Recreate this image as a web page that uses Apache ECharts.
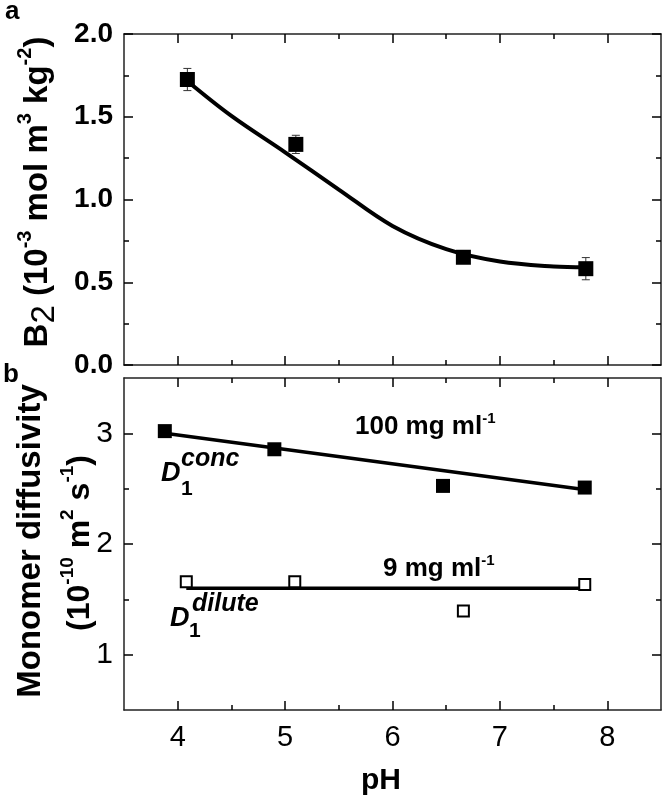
<!DOCTYPE html>
<html><head><meta charset="utf-8">
<script src="https://cdn.jsdelivr.net/npm/echarts@6/dist/echarts.min.js"></script>
<style>html,body{margin:0;padding:0;background:#fff}#c{width:664px;height:801px}</style>
</head><body><div id="c"></div>
<script>
// ---- Panel a data ----
const phA = [4.09, 5.10, 6.66, 7.80];
const b2 = [1.725, 1.333, 0.651, 0.582];
const b2Err = [0.067, 0.055, 0.03, 0.067];
const curvePh = [4.1, 4.5, 5.0, 5.5, 6.0, 6.5, 7.0, 7.5, 7.8];
const curveB2 = [1.71, 1.505, 1.285, 1.06, 0.84, 0.70, 0.625, 0.595, 0.59];
// ---- Panel b data ----
const phConc = [3.88, 4.90, 6.47, 7.79];
const dConc = [3.02, 2.856, 2.525, 2.51];
const concFitPh = [3.88, 7.80];
const concFitD = [3.00, 2.49];
const phDil = [4.08, 5.09, 6.66, 7.79];
const dDil = [1.66, 1.66, 1.395, 1.633];
const dilFitPh = [4.08, 7.80];
const dilFitD = [1.60, 1.60];
// ---- ticks ----
const xTicks = [4, 5, 6, 7, 8];
const xMinor = [4.5, 5.5, 6.5, 7.5];
const yTicksA = [0, 0.5, 1, 1.5, 2];
const yMinorA = [0.25, 0.75, 1.25, 1.75];
const yTicksB = [1, 2, 3];
const yMinorB = [1.5, 2.5];

const F = "'Liberation Sans', Arial, sans-serif";
const FN = "'Liberation Sans Narrow', 'Liberation Sans', Arial, sans-serif";
const LINE = '#222';

const zip = (a, b) => a.map((v, i) => [v, b[i]]);

function ax(grid, pos, min, max, ticks, len, showLine, label) {
  const o = {
    type: 'value', gridIndex: grid, position: pos, min: min, max: max,
    splitLine: { show: false },
    axisLine: { show: showLine, onZero: false, lineStyle: { color: LINE, width: 1.5 } },
    axisTick: { show: true, inside: true, length: len, customValues: ticks, lineStyle: { color: '#000', width: 1.5 } },
    axisLabel: { show: false }
  };
  if (label) o.axisLabel = Object.assign({ show: true, customValues: ticks }, label);
  return o;
}

const xAxis = [
  ax(0, 'bottom', 3.5, 8.5, xTicks, 9, true),
  ax(0, 'bottom', 3.5, 8.5, xMinor, 5, false),
  ax(0, 'top', 3.5, 8.5, xTicks, 9, true),
  ax(0, 'top', 3.5, 8.5, xMinor, 5, false),
  ax(1, 'bottom', 3.5, 8.5, xTicks, 9, true,
     { fontFamily: FN, fontSize: 29, color: '#000', margin: 13 }),
  ax(1, 'bottom', 3.5, 8.5, xMinor, 5, false),
  ax(1, 'top', 3.5, 8.5, xTicks, 9, true),
  ax(1, 'top', 3.5, 8.5, xMinor, 5, false)
];
const yAxis = [
  ax(0, 'left', 0, 2, yTicksA, 9, true,
     { fontFamily: F, fontWeight: 'bold', fontSize: 28, color: '#000', margin: 11, formatter: v => v.toFixed(1) }),
  ax(0, 'left', 0, 2, yMinorA, 5, false),
  ax(0, 'right', 0, 2, yTicksA, 9, true),
  ax(0, 'right', 0, 2, yMinorA, 5, false),
  ax(1, 'left', 0.5, 3.5, yTicksB, 9, true,
     { fontFamily: FN, fontSize: 30, color: '#000', margin: 11 }),
  ax(1, 'left', 0.5, 3.5, yMinorB, 5, false),
  ax(1, 'right', 0.5, 3.5, yTicksB, 9, true),
  ax(1, 'right', 0.5, 3.5, yMinorB, 5, false)
];

const sup = (size) => ({ fontFamily: F, fontWeight: 'bold', fontSize: size, lineHeight: size, verticalAlign: 'top', fill: '#000' });
const main = (size, lh) => ({ fontFamily: F, fontWeight: 'bold', fontSize: size, lineHeight: lh, verticalAlign: 'middle', fill: '#000' });

const graphic = [
  { type: 'text', x: 5, y: 12, style: { text: 'a', font: "bold 26px 'Liberation Sans'", fill: '#000', align: 'left', verticalAlign: 'middle' } },
  { type: 'text', x: 3, y: 375, style: { text: 'b', font: "bold 26px 'Liberation Sans'", fill: '#000', align: 'left', verticalAlign: 'middle' } },
  // y title panel a
  { type: 'text', x: 38, y: 192, rotation: Math.PI / 2,
    style: { text: '{b|B}{r|2}{b| (10}{p|-3}{b| mol m}{p|3}{b| kg}{p|-2}{b|)}', align: 'center', verticalAlign: 'middle',
      rich: { b: main(33, 46), p: sup(20), r: { fontFamily: F, fontSize: 33, lineHeight: 33, verticalAlign: 'bottom', fill: '#000' } } } },
  // y title panel b
  { type: 'text', x: 31, y: 541, rotation: Math.PI / 2,
    style: { text: 'Monomer diffusivity', font: "bold 33px 'Liberation Sans'", fill: '#000', align: 'center', verticalAlign: 'middle' } },
  { type: 'text', x: 80, y: 543, rotation: Math.PI / 2,
    style: { text: '{b|(10}{p|-10}{b| m}{p|2}{b| s}{p|-1}{b|)}', align: 'center', verticalAlign: 'middle',
      rich: { b: main(32, 44), p: sup(19) } } },
  // x title
  { type: 'text', x: 381, y: 781, style: { text: 'pH', font: "bold 30px 'Liberation Sans'", fill: '#000', align: 'center', verticalAlign: 'middle' } },
  // annotations
  { type: 'text', x: 355, y: 427, style: { text: '{b|100 mg ml}{p|-1}', align: 'left', verticalAlign: 'middle', rich: { b: main(26, 32), p: sup(15) } } },
  { type: 'text', x: 383, y: 569, style: { text: '{b|9 mg ml}{p|-1}', align: 'left', verticalAlign: 'middle', rich: { b: main(26, 32), p: sup(15) } } },
  { type: 'text', x: 161, y: 474, style: { text: 'D', font: "italic bold 27px 'Liberation Sans'", fill: '#000', align: 'left', verticalAlign: 'middle' } },
  { type: 'text', x: 181, y: 459, style: { text: 'conc', font: "italic bold 25px 'Liberation Sans'", fill: '#000', align: 'left', verticalAlign: 'middle' } },
  { type: 'text', x: 181, y: 489, style: { text: '1', font: "bold 21px 'Liberation Sans'", fill: '#000', align: 'left', verticalAlign: 'middle' } },
  { type: 'text', x: 170, y: 619, style: { text: 'D', font: "italic bold 27px 'Liberation Sans'", fill: '#000', align: 'left', verticalAlign: 'middle' } },
  { type: 'text', x: 192, y: 604, style: { text: 'dilute', font: "italic bold 25px 'Liberation Sans'", fill: '#000', align: 'left', verticalAlign: 'middle' } },
  { type: 'text', x: 189, y: 631, style: { text: '1', font: "bold 21px 'Liberation Sans'", fill: '#000', align: 'left', verticalAlign: 'middle' } }
];

const option = {
  backgroundColor: '#fff',
  animation: false,
  grid: [
    { left: 124, right: 3, top: 34, height: 331, outerBoundsMode: 'none', containLabel: false },
    { left: 124, right: 3, top: 378, height: 332, outerBoundsMode: 'none', containLabel: false }
  ],
  xAxis: xAxis,
  yAxis: yAxis,
  graphic: graphic,
  series: [
    { type: 'line', xAxisIndex: 0, yAxisIndex: 0, data: zip(curvePh, curveB2), smooth: 0.35, showSymbol: false,
      lineStyle: { color: '#000', width: 4 }, z: 2 },
    { type: 'custom', xAxisIndex: 0, yAxisIndex: 0, z: 3,
      data: phA.map((x, i) => [x, b2[i] - b2Err[i], b2[i] + b2Err[i]]),
      encode: { x: 0, y: [1, 2] },
      renderItem: function (params, api) {
        const lo = api.coord([api.value(0), api.value(1)]);
        const hi = api.coord([api.value(0), api.value(2)]);
        const w = 4, st = { stroke: '#333', lineWidth: 1 };
        return { type: 'group', children: [
          { type: 'line', shape: { x1: lo[0], y1: lo[1], x2: hi[0], y2: hi[1] }, style: st },
          { type: 'line', shape: { x1: lo[0] - w, y1: lo[1], x2: lo[0] + w, y2: lo[1] }, style: st },
          { type: 'line', shape: { x1: hi[0] - w, y1: hi[1], x2: hi[0] + w, y2: hi[1] }, style: st }
        ] };
      } },
    { type: 'scatter', xAxisIndex: 0, yAxisIndex: 0, data: zip(phA, b2), symbol: 'rect', symbolSize: 15,
      itemStyle: { color: '#000', opacity: 1 }, z: 5 },
    { type: 'line', xAxisIndex: 4, yAxisIndex: 4, data: zip(concFitPh, concFitD), showSymbol: false,
      lineStyle: { color: '#000', width: 3.5 }, z: 2 },
    { type: 'line', xAxisIndex: 4, yAxisIndex: 4, data: zip(dilFitPh, dilFitD), showSymbol: false,
      lineStyle: { color: '#000', width: 3.5 }, z: 2 },
    { type: 'scatter', xAxisIndex: 4, yAxisIndex: 4, data: zip(phConc, dConc), symbol: 'rect', symbolSize: 14,
      itemStyle: { color: '#000', opacity: 1 }, z: 5 },
    { type: 'scatter', xAxisIndex: 4, yAxisIndex: 4, data: zip(phDil, dDil), symbol: 'rect', symbolSize: 11,
      itemStyle: { color: '#fff', borderColor: '#000', borderWidth: 2, opacity: 1 }, z: 5 }
  ]
};
const chart = echarts.init(document.getElementById('c'), null, { renderer: 'canvas' });
chart.setOption(option);
</script>
</body></html>
